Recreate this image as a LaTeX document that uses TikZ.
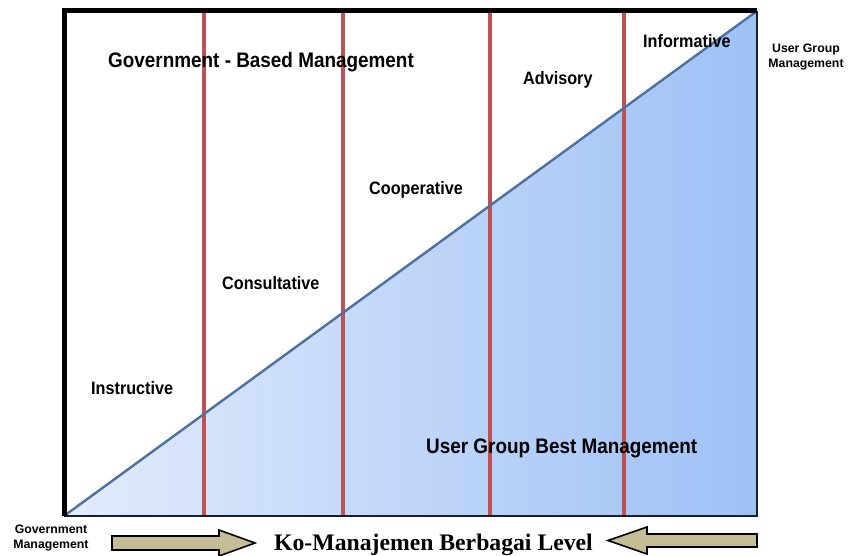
\documentclass[tikz,border=0pt]{standalone}
\usepackage{fontspec}
\setmainfont{Liberation Sans}
\newfontfamily\titlefont{Liberation Serif}
\definecolor{gradL}{RGB}{226,235,252}
\definecolor{gradR}{RGB}{158,193,245}
\definecolor{redline}{RGB}{190,82,82}
\definecolor{diagblue}{RGB}{78,112,160}
\definecolor{arrowfill}{RGB}{196,189,150}
\definecolor{darkedge}{RGB}{25,30,45}
\newcommand{\narrowtxt}[1]{\scalebox{0.9}[1]{#1}}
\begin{document}
\begin{tikzpicture}[x=1pt,y=-1pt,
  lbl/.style={font=\fontsize{18}{20}\selectfont\bfseries, inner sep=0pt, anchor=base west},
  biglbl/.style={font=\fontsize{21}{23}\selectfont\bfseries, inner sep=0pt, anchor=base west},
  sidelbl/.style={font=\fontsize{12.3}{15}\selectfont\bfseries, inner sep=0pt, align=center},
  divider/.style={draw=redline, line width=3.2pt},
  blockarrow/.style={fill=arrowfill, draw=black, line width=1.6pt, line join=miter}]
\useasboundingbox (0,0) rectangle (851,556);
% frame corners
\coordinate (BL) at (64,516);
\coordinate (TR) at (757,11);
\coordinate (BR) at (757,516);
\coordinate (TL) at (64,11);
% gradient area under the diagonal
\shade[left color=gradL, right color=gradR] (BL) -- (TR) -- (BR) -- cycle;
% vertical dividers
\foreach \i/\xx in {1/204,2/343,3/490,4/624}{
  \coordinate (d\i top) at (\xx,12);
  \coordinate (d\i bot) at (\xx,515);
  \draw[divider] (d\i top) -- (d\i bot);
}
% diagonal
\draw[diagblue, line width=2.4pt] (BL) -- (TR);
% frame
\draw[darkedge, line width=2pt] (BL) -- (BR) -- (TR);
\draw[black, line width=5pt, line join=miter] (BL) -- (TL) -- (TR);
% labels
\node[biglbl] (gbm) at (108,68) {\narrowtxt{Government - Based Management}};
\node[lbl] (inf) at (643,48) {\narrowtxt{Informative}};
\node[lbl] (adv) at (523,85) {\narrowtxt{Advisory}};
\node[lbl] (coop) at (369,195) {\narrowtxt{Cooperative}};
\node[lbl] (cons) at (222,289) {\narrowtxt{Consultative}};
\node[lbl] (inst) at (91,394) {\narrowtxt{Instructive}};
\node[biglbl] (ugbm) at (426,453) {\narrowtxt{User Group Best Management}};
\node[sidelbl] (ugm) at (806,57) {User Group\\Management};
\node[sidelbl] (gm) at (51,538) {Government\\Management};
% bottom title
\node[font=\titlefont\fontsize{23.7}{26}\selectfont\bfseries, inner sep=0pt, anchor=base west] (title) at (274,550) {Ko-Manajemen Berbagai Level};
% block arrows
\draw[blockarrow] (112,536) -- (219,536) -- (219,530) -- (255,543) -- (219,556) -- (219,550) -- (112,550) -- cycle;
\draw[blockarrow] (757,534) -- (647,534) -- (647,527) -- (608,540.5) -- (647,554) -- (647,547) -- (757,547) -- cycle;
\end{tikzpicture}
\end{document}
